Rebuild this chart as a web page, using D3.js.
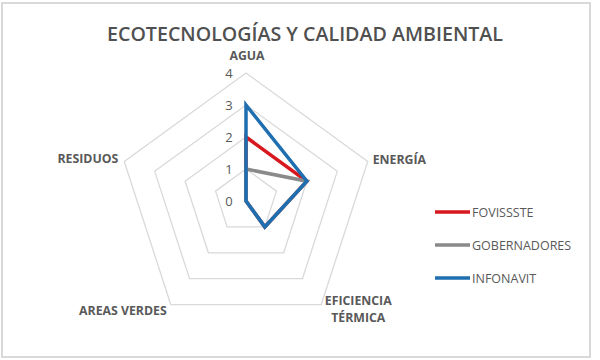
<!DOCTYPE html>
<html><head><meta charset="utf-8">
<script src="https://cdn.jsdelivr.net/npm/d3@7"></script>
<style>body{margin:0;background:#fff}svg{display:block}text{font-family:"Open Sans",sans-serif}</style>
</head><body>
<svg id="c" width="600" height="360"></svg>
<script>
const axes = ["AGUA", "ENERGÍA", "EFICIENCIA\nTÉRMICA", "AREAS VERDES", "RESIDUOS"];
const seriesNames = ["FOVISSSTE", "GOBERNADORES", "INFONAVIT"];
const fovissste = [2, 2, 1, 0, 0];
const gobernadores = [1, 2, 1, 0, 0];
const infonavit = [3, 2, 1, 0, 0];
const ticks = [0, 1, 2, 3, 4];
const colors = ["#d7191f", "#8a8a8a", "#1f6eb0"];
const title = "ECOTECNOLOGÍAS Y CALIDAD AMBIENTAL";

const svg = d3.select("#c");
svg.append("rect").attr("x", 2).attr("y", 3).attr("width", 588).attr("height", 354)
  .attr("fill", "#fff").attr("stroke", "#d9d9d9").attr("stroke-width", 2);

svg.append("text").attr("x", 305).attr("y", 41).attr("text-anchor", "middle")
  .attr("font-size", 20).attr("font-weight", 600).attr("fill", "#505050")
  .attr("textLength", 396).attr("lengthAdjust", "spacingAndGlyphs").text(title);

const cx = 246, cy = 201;
const r = d3.scaleLinear().domain([0, 4]).range([0, 128]);
const ang = d3.scaleLinear().domain([0, axes.length]).range([-Math.PI / 2, 1.5 * Math.PI]);
const pt = (i, v) => [cx + r(v) * Math.cos(ang(i)), cy + r(v) * Math.sin(ang(i))];

const g = svg.append("g");
ticks.filter(t => t > 0).forEach(t => {
  g.append("polygon").attr("points", axes.map((a, i) => pt(i, t).join(",")).join(" "))
    .attr("fill", "none").attr("stroke", "#d9d9d9").attr("stroke-width", 1.3);
});

ticks.forEach(t => {
  g.append("text").attr("x", cx - 17).attr("y", cy - r(t) + 5).attr("text-anchor", "middle")
    .attr("font-size", 13).attr("fill", "#595959").text(t);
});

const line = d3.line().curve(d3.curveLinearClosed);
[fovissste, gobernadores, infonavit].forEach((vals, k) => {
  g.append("path").attr("d", line(vals.map((v, i) => pt(i, v))))
    .attr("fill", "none").attr("stroke", colors[k]).attr("stroke-width", 3.5)
    .attr("stroke-linejoin", "miter");
});

const labelOff = [
  {dx: 1, dy: -13, anchor: "middle"},
  {dx: 5, dy: 3, anchor: "start"},
  {dx: 37, dy: 0, anchor: "middle"},
  {dx: -4, dy: 10, anchor: "end"},
  {dx: -6, dy: 2, anchor: "end"}
];
axes.forEach((a, i) => {
  const [x, y] = pt(i, 4);
  const o = labelOff[i];
  const lines = a.split("\n");
  const t = g.append("text").attr("text-anchor", o.anchor).attr("font-size", 12.3)
    .attr("font-weight", "bold").attr("fill", "#595959");
  lines.forEach((s, j) => {
    t.append("tspan").attr("x", x + o.dx).attr("y", y + o.dy + j * 17).text(s);
  });
});

const lg = svg.append("g");
seriesNames.forEach((n, k) => {
  const y = 212 + k * 33;
  lg.append("line").attr("x1", 435).attr("x2", 470).attr("y1", y).attr("y2", y)
    .attr("stroke", colors[k]).attr("stroke-width", 3.5);
  lg.append("text").attr("x", 472).attr("y", y + 4.5).attr("font-size", 12.5)
    .attr("fill", "#595959").text(n);
});
</script>
</body></html>
